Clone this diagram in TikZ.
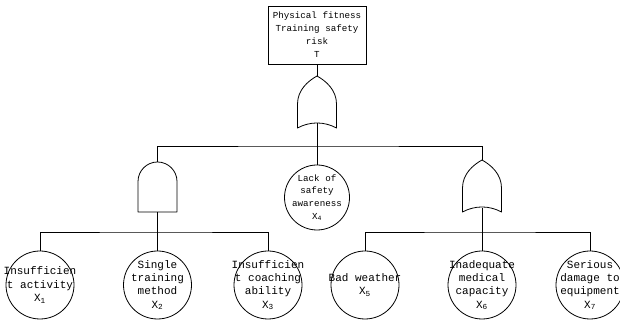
\documentclass[tikz,border=0pt]{standalone}
\usepackage{fontspec}
\setmonofont{Liberation Mono}
\usetikzlibrary{calc}

% OR gate outline, centred on (#1,#2), 39 wide and 52 high
\newcommand\drawORgate[2]{%
  \draw[gateline] (#1-19.5,#2-26) -- (#1-19.5,#2-2)
    .. controls (#1-19.5,#2+12) and (#1-9,#2+21) .. (#1,#2+26)
    .. controls (#1+9,#2+21) and (#1+19.5,#2+12) .. (#1+19.5,#2-2)
    -- (#1+19.5,#2-26)
    .. controls (#1+7,#2-19.3) and (#1-7,#2-19.3) .. cycle;}
% AND gate outline, centred on (#1,#2), 39 wide and 50 high
\newcommand\drawANDgate[2]{%
  \draw[gateline] (#1-19.5,#2-25) -- (#1-19.5,#2+5.5)
    arc[start angle=180,end angle=0,radius=19.5]
    -- (#1+19.5,#2-25) -- cycle;}

\begin{document}
\begin{tikzpicture}[x=1pt,y=1pt,
  line width=0.8pt,
  gateline/.style={line width=0.8pt, line join=round},
  gatebox/.style={inner sep=0pt, minimum width=39pt, minimum height=52pt},
  andbox/.style={inner sep=0pt, minimum width=39pt, minimum height=50pt},
  topbox/.style={draw, inner sep=0pt, minimum width=98pt, minimum height=58pt,
    align=center, font=\ttfamily\fontsize{9.2}{13}\selectfont},
  midevent/.style={draw, circle, inner sep=0pt, minimum size=65pt},
  event/.style={draw, circle, inner sep=0pt, minimum size=68pt},
  midtext/.style={align=center, font=\ttfamily\fontsize{9.2}{12.7}\selectfont},
  evtext/.style={align=center, font=\ttfamily\fontsize{11}{13.3}\selectfont},
  sub/.style={}]
\useasboundingbox (0,0) rectangle (620,320);

% top event
\node[topbox] (top) at (317,285) {Physical fitness\\Training safety\\risk\\T};

% gates
\node[gatebox] (g1) at (317,218) {};
\drawORgate{317}{218}
\node[andbox] (g2) at (157.5,133) {};
\drawANDgate{157.5}{133}
\node[gatebox] (g3) at (482,134) {};
\drawORgate{482}{134}

% basic events
\node[midevent, label={[midtext]center:{Lack of\\safety\\awareness\\X\textsubscript{4}}}] (x4) at (317,122.5) {};
\node[event, label={[evtext]center:{Insufficien\\t activity\\X\textsubscript{1}}}] (x1) at (40,35) {};
\node[event, label={[evtext]center:{Single\\training\\method\\X\textsubscript{2}}}] (x2) at (157.5,35) {};
\node[event, label={[evtext]center:{Insufficien\\t coaching\\ability\\X\textsubscript{3}}}] (x3) at (268,35) {};
\node[event, label={[evtext]center:{Bad weather\\X\textsubscript{5}}}] (x5) at (365,35) {};
\node[event, label={[evtext]center:{Inadequate\\medical\\capacity\\X\textsubscript{6}}}] (x6) at (482,35) {};
\node[event, label={[evtext]center:{Serious\\damage to\\equipment\\X\textsubscript{7}}}] (x7) at (590,35) {};

% bus lines
\coordinate (bus1) at (317,174);
\coordinate (bus2) at (157.5,88);
\coordinate (bus3) at (482,88);

% connectors
\draw (top.south) -- (g1.north);
\draw ($(g1.south)+(0,5)$) -- (x4.north);
\draw (g2.north) |- (bus1) -| (g3.north);
\draw (g2.south) -- (x2.north);
\draw (x1.north) |- (bus2) -| (x3.north);
\draw ($(g3.south)+(0,4)$) -- (x6.north);
\draw (x5.north) |- (bus3) -| (x7.north);
\end{tikzpicture}
\end{document}
